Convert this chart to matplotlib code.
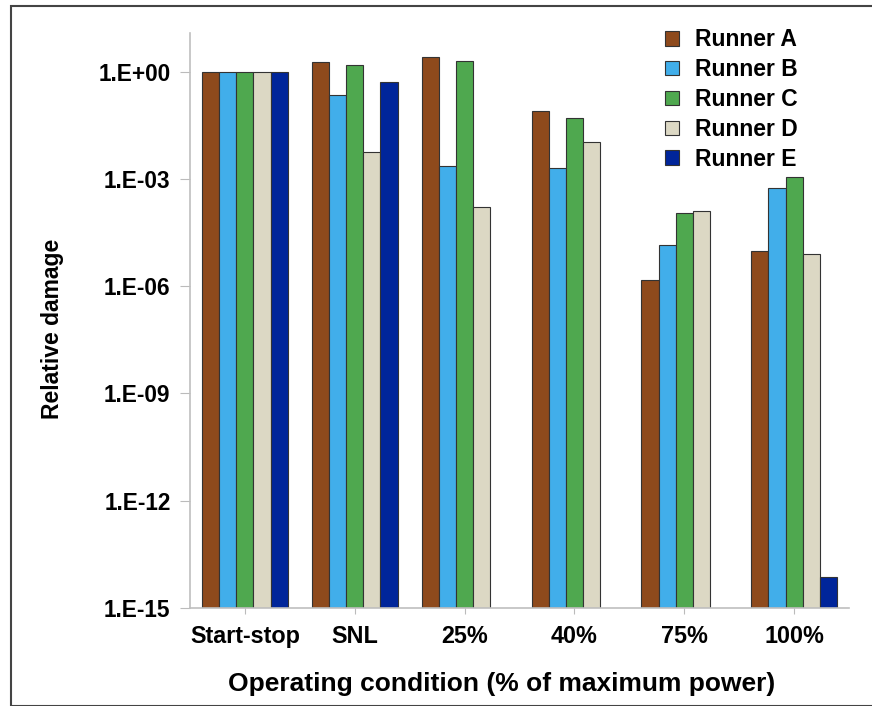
import matplotlib
matplotlib.use("Agg")
import matplotlib.pyplot as plt
import numpy as np
from matplotlib.patches import Rectangle, Patch

plt.rcParams['font.family'] = ['Liberation Sans', 'DejaVu Sans']
plt.rcParams['font.weight'] = 'bold'

conditions = ["Start-stop", "SNL", "25%", "40%", "75%", "100%"]
runners = ["Runner A", "Runner B", "Runner C", "Runner D", "Runner E"]
colors = ["#8E4A1C", "#41AEEA", "#4FA84F", "#DCD8C4", "#00259A"]

# relative damage per runner (None = no bar)
runner_a = [1.0, 1.8, 2.5, 0.079, 1.5e-6, 9.7e-6]
runner_b = [1.0, 0.22, 2.3e-3, 1.96e-3, 1.4e-5, 5.6e-4]
runner_c = [1.0, 1.5, 2.0, 0.051, 1.12e-4, 1.15e-3]
runner_d = [1.0, 5.7e-3, 1.6e-4, 0.011, 1.26e-4, 7.7e-6]
runner_e = [1.0, 0.52, None, None, None, 7.6e-15]
series = [runner_a, runner_b, runner_c, runner_d, runner_e]

ymin = 1e-15
ymax = 10 ** 1.08

fig = plt.figure(figsize=(8.72, 7.06), dpi=100)
ax = fig.add_axes([190 / 872, 1 - 608 / 706, (849 - 190) / 872, (608 - 33) / 706])

x = np.arange(len(conditions))
w = 0.156
for i, (name, vals) in enumerate(zip(runners, series)):
    xs = [xi + (i - 2) * w for xi, v in zip(x, vals) if v is not None]
    hs = [v for v in vals if v is not None]
    ax.bar(xs, [h - ymin for h in hs], w, bottom=ymin, color=colors[i],
           edgecolor="#333333", linewidth=0.8, label=name)

ax.set_yscale("log")
ax.set_ylim(ymin, ymax)
ax.set_xlim(-0.5, 5.5)
yt = [1e0, 1e-3, 1e-6, 1e-9, 1e-12, 1e-15]
ax.set_yticks(yt)
ax.set_yticklabels(["1.E+00", "1.E-03", "1.E-06", "1.E-09", "1.E-12", "1.E-15"])
ax.minorticks_off()
ax.set_xticks(x)
ax.set_xticklabels(conditions)
ax.tick_params(axis="y", length=7, color="#BBBBBB", labelsize=16.3, pad=7)
ax.tick_params(axis="x", length=4, color="#BBBBBB", labelsize=16.8, pad=8)
for s in ["top", "right"]:
    ax.spines[s].set_visible(False)
for s in ["left", "bottom"]:
    ax.spines[s].set_color("#BFBFBF")
    ax.spines[s].set_linewidth(1.2)

ax.set_ylabel("Relative damage", fontsize=16.5, fontweight="bold")
ax.yaxis.set_label_coords((64 - 190) / 659, (608 - 329) / 575)
ax.set_xlabel("Operating condition (% of maximum power)", fontsize=19,
              fontweight="bold")
ax.xaxis.set_label_coords((502 - 190) / 659, -(672 - 608) / 575)

handles = [Patch(facecolor=c, edgecolor="#333333", linewidth=0.8) for c in colors]
leg = ax.legend(handles, runners, loc="upper left", bbox_to_anchor=(0.69, 1.044),
                frameon=False, fontsize=16.5, handlelength=0.6, handleheight=0.6,
                handletextpad=0.7, labelspacing=0.3)

fig.patches.append(Rectangle((11 / 872, 0), 1, 1 - 6 / 706, transform=fig.transFigure,
                             fill=False, edgecolor="#444444", linewidth=1.5))

fig.savefig("out.png", dpi=100)
